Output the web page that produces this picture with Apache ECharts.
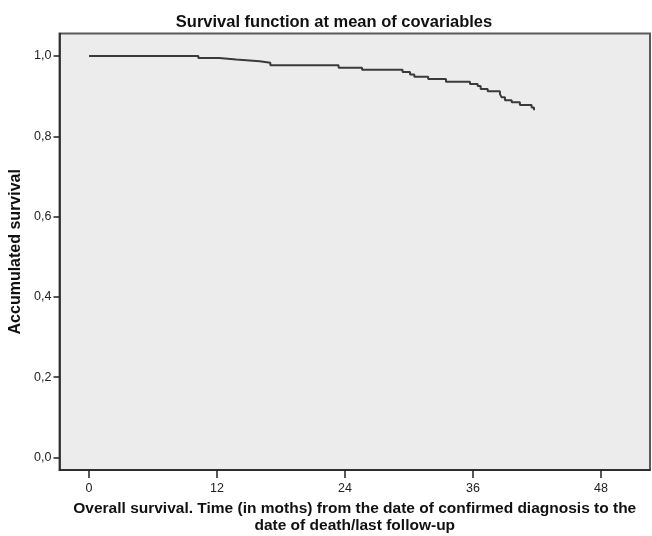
<!DOCTYPE html>
<html>
<head>
<meta charset="utf-8">
<script src="https://cdn.jsdelivr.net/npm/echarts@6/dist/echarts.min.js"></script>
<style>html,body{margin:0;padding:0;background:#fff}#c{width:652px;height:536px}</style>
</head>
<body>
<div id="c"></div>
<script>
// Survival step curve: months and survival
var months = [0, 10.25, 12.2, 13.8, 16.0, 17.0, 23.4, 25.6, 29.4, 30.1, 30.5, 31.8, 33.47, 35.72, 36.44, 36.72, 37.38, 38.53, 38.69, 39.0, 39.63, 40.4, 41.5, 41.72];
var survival = [1.0, 0.995, 0.991, 0.987, 0.983, 0.977, 0.971, 0.966, 0.960, 0.954, 0.948, 0.943, 0.936, 0.930, 0.925, 0.918, 0.912, 0.905, 0.897, 0.890, 0.885, 0.878, 0.872, 0.865];
var xTicks = [0, 12, 24, 36, 48];
var yTicks = [0, 0.2, 0.4, 0.6, 0.8, 1.0];

var data = months.map(function (m, i) { return [m, survival[i]]; });
var font = 'Liberation Sans, Arial, sans-serif';

var chart = echarts.init(document.getElementById('c'));
chart.setOption({
  animation: false,
  title: {
    text: 'Survival function at mean of covariables',
    left: 329, top: 9, textAlign: 'center',
    textStyle: { fontFamily: font, fontSize: 16.5, fontWeight: 'bold', color: '#111' }
  },
  grid: {
    left: 59.5, right: 2, top: 33.5, bottom: 66,
    outerBoundsMode: 'none', containLabel: false,
    show: true, backgroundColor: '#ececec', borderColor: '#5a5a5a', borderWidth: 2
  },
  xAxis: {
    type: 'value', min: -2.77, max: 52.6,
    splitLine: { show: false },
    axisLine: { show: true, onZero: false, lineStyle: { color: '#222', width: 1.5 } },
    axisTick: { show: true, length: 8, customValues: xTicks, lineStyle: { color: '#222', width: 1.5 } },
    axisLabel: { customValues: xTicks, margin: 12, fontFamily: font, fontSize: 12.5, color: '#222' },
    name: 'Overall survival. Time (in moths) from the date of confirmed diagnosis to the\ndate of death/last follow-up',
    nameLocation: 'middle', nameGap: 22,
    nameTextStyle: { fontFamily: font, fontSize: 15.5, fontWeight: 'bold', color: '#111', lineHeight: 17, verticalAlign: 'top' }
  },
  yAxis: {
    type: 'value', min: -0.031, max: 1.056,
    splitLine: { show: false },
    axisLine: { show: true, onZero: false, lineStyle: { color: '#222', width: 1.5 } },
    axisTick: { show: true, length: 6, customValues: yTicks, lineStyle: { color: '#222', width: 1.5 } },
    axisLabel: {
      customValues: yTicks, margin: 8, fontFamily: font, fontSize: 12.5, color: '#222',
      formatter: function (v) { return v.toFixed(1).replace('.', ','); }
    },
    name: 'Accumulated survival',
    nameLocation: 'middle', nameGap: 35, nameRotate: 90,
    nameTextStyle: { fontFamily: font, fontSize: 16, fontWeight: 'bold', color: '#111' }
  },
  series: [{
    type: 'line', step: 'end', data: data, symbol: 'none',
    lineStyle: { color: '#3a3a3a', width: 2 }
  }]
});
</script>
</body>
</html>
